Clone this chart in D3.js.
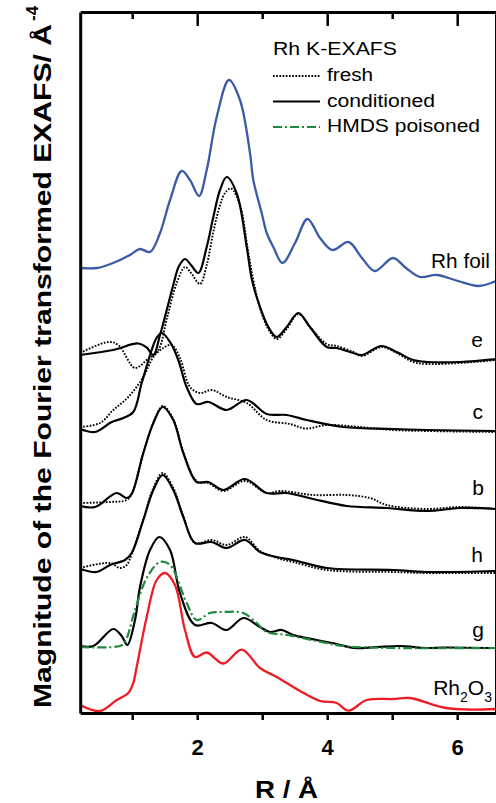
<!DOCTYPE html>
<html><head><meta charset="utf-8">
<script src="https://cdn.jsdelivr.net/npm/d3@7"></script>
<style>
body{margin:0;background:#fff}
svg{display:block}
text{font-family:"Liberation Sans",Arial,Helvetica,sans-serif;fill:#000}
</style>
</head><body>
<svg id="chart" width="496" height="803"></svg>
<script>
// ---------- data (R in Å, magnitude in stacked arbitrary units) ----------
const xTickValues = [1, 2, 3, 4, 5, 6];
const xTickLabels = ["2", "4", "6"];
const legendTitle = "Rh K-EXAFS";
const legendNames = ["fresh", "conditioned", "HMDS poisoned"];
const curveLabels = ["Rh foil", "e", "c", "b", "h", "g"];

const rhFoil = [[0.2,44.5],[0.458,44.5],[0.705,45.0],[0.966,45.8],[1.12,46.4],[1.274,46.1],[1.428,48.0],[1.582,51.3],[1.762,54.2],[1.889,53.3],[2.028,51.7],[2.146,54.3],[2.3,59.6],[2.489,63.3],[2.658,61.3],[2.812,56.0],[2.863,53.3],[2.992,50.0],[3.069,48.0],[3.171,46.6],[3.312,45.0],[3.505,47.0],[3.697,49.4],[3.889,47.5],[4.082,46.3],[4.328,47.1],[4.535,45.5],[4.735,44.2],[5.012,45.5],[5.212,44.5],[5.428,43.6],[5.685,43.8],[6.012,43.2],[6.325,42.7],[6.6,43.2]];

const eConditioned = [[0.2,35.8],[0.705,36.3],[1.094,36.95],[1.223,36.55],[1.325,35.8],[1.428,37.8],[1.531,40.3],[1.632,42.8],[1.72,44.7],[1.812,45.4],[1.905,44.8],[2.017,44.0],[2.146,46.6],[2.248,49.6],[2.351,52.3],[2.454,53.6],[2.608,51.97],[2.762,46.6],[2.843,43.3],[2.966,40.6],[3.094,38.6],[3.223,37.6],[3.377,38.6],[3.555,40.0],[3.735,38.6],[3.992,36.6],[4.146,36.5],[4.402,36.0],[4.531,35.8],[4.838,36.7],[5.069,36.1],[5.325,35.3],[5.531,35.1],[6.043,35.1],[6.6,35.4]];
const eFresh = [[0.2,36.0],[0.632,37.1],[0.786,36.8],[1.043,34.5],[1.223,35.3],[1.402,36.3],[1.535,39.5],[1.685,43.0],[1.812,44.6],[1.905,44.0],[2.043,42.9],[2.146,44.8],[2.248,48.1],[2.351,50.8],[2.428,52.0],[2.52,52.45],[2.658,50.8],[2.78,46.3],[2.863,43.3],[2.966,40.5],[3.094,38.4],[3.223,37.4],[3.377,38.4],[3.555,39.9],[3.735,38.6],[3.992,36.9],[4.146,36.7],[4.402,36.1],[4.531,35.7],[4.838,36.6],[5.069,36.0],[5.325,35.1],[5.531,34.9],[6.043,35.0],[6.6,35.3]];

const cConditioned = [[0.2,28.4],[0.428,28.1],[0.685,29.1],[0.863,29.5],[1.017,30.1],[1.146,33.0],[1.3,36.3],[1.374,37.5],[1.454,38.0],[1.582,37.1],[1.709,35.3],[1.838,32.6],[1.992,30.9],[2.171,31.1],[2.454,30.3],[2.762,31.3],[3.069,29.9],[3.377,29.8],[3.685,29.3],[4.248,28.6],[5.017,28.4],[5.531,28.3],[6.6,28.2]];
const cFresh = [[0.2,28.6],[0.505,29.0],[0.709,30.3],[0.94,31.6],[1.171,33.6],[1.325,35.6],[1.478,36.5],[1.608,36.8],[1.735,35.5],[1.889,32.6],[2.043,32.0],[2.223,32.3],[2.454,31.6],[2.762,31.0],[3.069,29.3],[3.428,28.9],[3.66,28.45],[3.992,28.8],[4.505,28.6],[5.017,28.3],[5.531,28.2],[6.6,28.1]];

const bConditioned = [[0.2,20.7],[0.428,20.6],[0.762,22.0],[0.915,21.5],[0.992,21.9],[1.171,26.0],[1.325,29.0],[1.469,30.6],[1.632,29.3],[1.786,26.0],[1.992,23.1],[2.171,23.1],[2.402,22.3],[2.735,23.4],[3.069,22.0],[3.377,22.0],[3.786,21.4],[4.3,20.7],[4.915,20.5],[5.531,20.2],[6.043,20.5],[6.6,20.4]];
const bFresh = [[0.2,21.0],[0.658,21.1],[0.915,21.3],[0.992,21.9],[1.171,26.0],[1.325,29.0],[1.469,30.7],[1.632,29.4],[1.786,26.1],[1.992,23.2],[2.171,23.0],[2.402,22.2],[2.735,23.2],[3.069,22.0],[3.274,22.2],[3.786,21.8],[4.3,21.8],[4.658,21.5],[4.915,20.8],[5.531,20.4],[6.043,20.6],[6.6,20.4]];

const hConditioned = [[0.2,14.4],[0.454,14.1],[0.658,14.8],[0.889,15.3],[0.992,16.0],[1.171,19.3],[1.325,22.3],[1.469,23.8],[1.632,22.3],[1.786,19.6],[1.966,17.0],[2.223,17.1],[2.454,16.5],[2.735,17.3],[2.966,16.1],[3.223,15.6],[3.478,15.3],[3.992,14.5],[5.017,14.3],[5.531,14.1],[6.6,14.2]];
const hFresh = [[0.2,14.5],[0.658,15.0],[0.812,14.5],[0.915,14.8],[0.992,15.9],[1.171,19.4],[1.325,22.5],[1.469,24.0],[1.632,22.5],[1.786,19.7],[1.966,17.0],[2.223,17.3],[2.454,16.8],[2.735,17.6],[2.966,16.2],[3.223,15.5],[3.478,15.1],[3.992,14.3],[5.017,14.1],[5.531,14.0],[6.6,14.0]];

const gConditioned = [[0.2,6.7],[0.402,6.7],[0.709,8.4],[0.838,7.7],[0.925,6.8],[1.043,9.3],[1.12,12.6],[1.274,16.3],[1.417,17.6],[1.582,16.3],[1.735,12.0],[1.966,8.8],[2.223,9.0],[2.454,8.3],[2.709,9.5],[2.966,8.6],[3.12,8.1],[3.3,8.3],[3.478,7.8],[3.838,7.3],[4.146,6.9],[4.402,6.5],[4.762,6.6],[5.12,6.7],[5.531,6.5],[5.786,6.55],[6.6,6.5]];
const gPoisoned = [[0.2,6.6],[0.812,6.7],[0.889,7.1],[1.043,10.3],[1.223,13.5],[1.428,15.1],[1.582,14.8],[1.838,11.0],[1.992,9.3],[2.197,10.0],[2.402,10.1],[2.709,10.0],[2.915,9.0],[3.069,8.1],[3.377,7.8],[3.838,7.2],[4.248,6.7],[5.017,6.5],[6.6,6.5]];

const rh2o3 = [[0.2,0.8],[0.505,0.2],[0.762,1.3],[0.94,2.0],[1.017,3.0],[1.069,4.6],[1.223,9.6],[1.377,13.3],[1.505,14.0],[1.658,12.8],[1.812,8.3],[1.966,5.6],[2.146,6.05],[2.402,4.95],[2.685,6.34],[2.966,4.5],[3.223,3.6],[3.582,2.2],[3.889,1.2],[4.146,1.0],[4.325,0.23],[4.608,1.3],[5.017,1.4],[5.274,1.5],[5.786,0.55],[6.146,0.35],[6.6,0.4]];

// ---------- layout ----------
const svg = d3.select("#chart");
const x = d3.scaleLinear().domain([0.2, 6.6]).range([80.2, 496.2]);
const y = d3.scaleLinear().domain([0, 70.1]).range([713, 12]);

svg.append("clipPath").attr("id","plotclip").append("rect")
  .attr("x", x(0.2)).attr("y", y(70.1)).attr("width", x(6.6)-x(0.2)).attr("height", y(0)-y(70.1));

const line = d3.line().x(d => x(d[0])).y(d => y(d[1])).curve(d3.curveCatmullRom.alpha(0.5));

const BLUE = "#3b5ba9", RED = "#ee1c25", GREEN = "#1d8a3e";
const DOT = "1.7,1.5";
const series = [
  {d: rhFoil, color: BLUE, w: 2.3, dash: null},
  {d: eFresh, color: "#000", w: 1.9, dash: DOT},
  {d: eConditioned, color: "#000", w: 2.2, dash: null},
  {d: cFresh, color: "#000", w: 1.9, dash: DOT},
  {d: cConditioned, color: "#000", w: 2.2, dash: null},
  {d: bFresh, color: "#000", w: 1.9, dash: DOT},
  {d: bConditioned, color: "#000", w: 2.2, dash: null},
  {d: hFresh, color: "#000", w: 1.9, dash: DOT},
  {d: hConditioned, color: "#000", w: 2.2, dash: null},
  {d: rh2o3, color: RED, w: 2.3, dash: null},
  {d: gConditioned, color: "#000", w: 2.2, dash: null},
  {d: gPoisoned, color: GREEN, w: 2.2, dash: "9,3,2,3"}
];

const plot = svg.append("g").attr("clip-path","url(#plotclip)");
plot.selectAll("path.series").data(series).join("path")
  .attr("class","series")
  .attr("d", s => line(s.d))
  .attr("fill","none")
  .attr("stroke", s => s.color)
  .attr("stroke-width", s => s.w)
  .attr("stroke-dasharray", s => s.dash)
  .attr("stroke-linejoin","round");

// ---------- axes ----------
const bottom = svg.append("g").attr("transform",`translate(0,${y(0)})`)
  .call(d3.axisBottom(x).tickValues(xTickValues).tickSizeInner(7).tickSizeOuter(0).tickPadding(19)
    .tickFormat(d => xTickLabels.includes(String(d)) ? String(d) : ""));
bottom.select(".domain").attr("stroke-width",3);
bottom.selectAll(".tick line").attr("stroke-width",2.5);
bottom.selectAll(".tick text").attr("font-size",22).attr("font-weight","bold")
  .attr("font-family","'Liberation Sans',Arial,sans-serif");

const topMajor = svg.append("g").attr("transform",`translate(0,${y(70.1)})`)
  .call(d3.axisTop(x).tickValues(xTickValues.filter(v => v % 2 === 0)).tickSizeInner(-14).tickSizeOuter(0).tickFormat(""));
topMajor.select(".domain").attr("stroke-width",3);
topMajor.selectAll(".tick line").attr("stroke-width",2.5);
const topMinor = svg.append("g").attr("transform",`translate(0,${y(70.1)})`)
  .call(d3.axisTop(x).tickValues(xTickValues.filter(v => v % 2 === 1)).tickSizeInner(-7).tickSizeOuter(0).tickFormat(""));
topMinor.select(".domain").remove();
topMinor.selectAll(".tick line").attr("stroke-width",2.5);

const left = svg.append("g").attr("transform",`translate(${x(0.2)},0)`)
  .call(d3.axisLeft(y).tickValues([]).tickSizeOuter(0));
left.select(".domain").attr("stroke-width",3);
const right = svg.append("g").attr("transform",`translate(${x(6.6)-0.9},0)`)
  .call(d3.axisRight(y).tickValues([]).tickSizeOuter(0));
right.select(".domain").attr("stroke-width",1.5);
svg.selectAll(".domain").attr("stroke","#000");

// axis titles
svg.append("text").attr("x",255).attr("y",798)
  .attr("font-size",24).attr("font-weight","bold")
  .attr("textLength",63).attr("lengthAdjust","spacingAndGlyphs")
  .text("R / Å");

const yl = svg.append("g").attr("transform","translate(51,708) rotate(-90)");
yl.append("text").attr("x",0).attr("y",0)
  .attr("font-size",23).attr("font-weight","bold")
  .attr("textLength",684).attr("lengthAdjust","spacingAndGlyphs")
  .text("Magnitude of the Fourier transformed EXAFS/ Å");
yl.append("text").attr("x",687).attr("y",-13)
  .attr("font-size",17).attr("font-weight","bold")
  .text("-4");

// ---------- legend ----------
const lg = svg.append("g");
lg.append("text").attr("x",273).attr("y",55).attr("font-size",18)
  .attr("textLength",124).attr("lengthAdjust","spacingAndGlyphs").text(legendTitle);
const legStyles = [
  {color:"#000", w:1.9, dash:DOT, len:46},
  {color:"#000", w:2.2, dash:null, len:108},
  {color:GREEN, w:2.2, dash:"9,3,2,3", len:153}
];
legendNames.forEach((name, i) => {
  const by = 81 + i*25.5;
  lg.append("line").attr("x1",273).attr("x2",320).attr("y1",by-5).attr("y2",by-5)
    .attr("stroke",legStyles[i].color).attr("stroke-width",legStyles[i].w)
    .attr("stroke-dasharray",legStyles[i].dash);
  lg.append("text").attr("x",327).attr("y",by).attr("font-size",18)
    .attr("textLength",legStyles[i].len).attr("lengthAdjust","spacingAndGlyphs").text(name);
});

// ---------- curve labels ----------
const labelPos = [[490,268],[483,346.5],[483,418.5],[484,495],[483,561.5],[484,637]];
curveLabels.forEach((t,i) => {
  const tx = svg.append("text").attr("x",labelPos[i][0]).attr("y",labelPos[i][1])
    .attr("font-size",21).attr("text-anchor","end").text(t);
  if (i === 0) tx.attr("textLength",59).attr("lengthAdjust","spacingAndGlyphs");
});
const rl = svg.append("text").attr("x",492).attr("y",695).attr("font-size",21).attr("text-anchor","end");
rl.append("tspan").text("Rh");
rl.append("tspan").attr("font-size",14).attr("dy",7).text("2");
rl.append("tspan").attr("dy",-7).text("O");
rl.append("tspan").attr("font-size",14).attr("dy",7).text("3");
</script>
</body></html>
